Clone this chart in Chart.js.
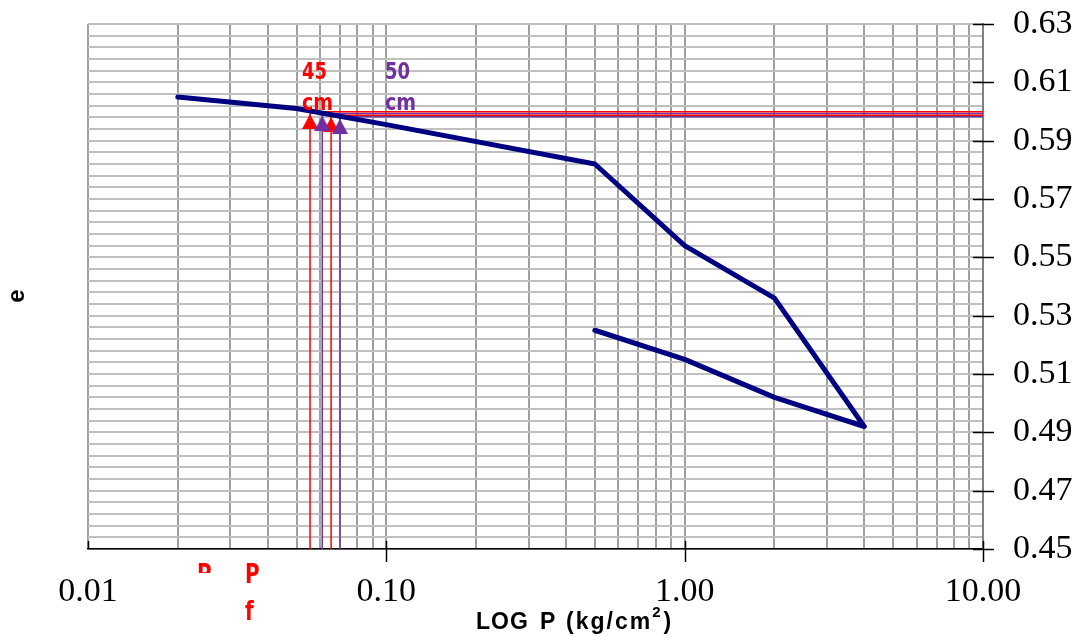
<!DOCTYPE html>
<html><head><meta charset="utf-8">
<script src="https://cdn.jsdelivr.net/npm/chart.js@4.4.1/dist/chart.umd.min.js"></script>
<style>html,body{margin:0;padding:0;background:#fff}#wrap{width:1080px;height:637px;position:relative}</style>
</head><body><div id="wrap"><canvas id="c" width="1080" height="637"></canvas></div>
<script>
// ---- data ----
const loadP      = [0.02, 0.05, 0.1, 0.5, 1, 2, 4, 2, 1, 0.5];
const voidRatio  = [0.605, 0.601, 0.5955, 0.582, 0.554, 0.536, 0.492, 0.502, 0.515, 0.525];
const redP       = [0.0555, 0.0653];     // 45 cm
const redMarkE   = [0.5966, 0.5955];
const redGuideE  = [0.5999, 0.5987];
const purpleP    = [0.061, 0.0699];      // 50 cm
const purpleMarkE  = [0.5960, 0.5949];
const purpleGuideE = [0.5993, 0.5982];
const xDecades   = [0.01, 0.1, 1, 10];
const xTickLabels = ['0.01', '0.10', '1.00', '10.00'];
const xMinor     = [1, 2, 3, 4, 5, 6, 7, 8, 9];
const yTickLabels = ['0.45', '0.47', '0.49', '0.51', '0.53', '0.55', '0.57', '0.59', '0.61', '0.63'];
const yMinorPerLabel = 5;

// ---- helpers ----
const xGridValues = [];
xDecades.slice(0, -1).forEach(d => xMinor.forEach(m => xGridValues.push(m * d)));
xGridValues.push(xDecades[xDecades.length - 1]);
const yGridValues = [];
for (let i = 0; i < yTickLabels.length - 1; i++) {
  const a = parseFloat(yTickLabels[i]), b = parseFloat(yTickLabels[i + 1]);
  for (let k = 0; k < yMinorPerLabel; k++) yGridValues.push(a + (b - a) * k / yMinorPerLabel);
}
yGridValues.push(parseFloat(yTickLabels[yTickLabels.length - 1]));

const RED = '#ff0000', PURPLE = '#7030a0', NAVY = '#000080';
const X_MAX = xDecades[xDecades.length - 1], Y_MIN = parseFloat(yTickLabels[0]);

function triangle(color) {
  const c = document.createElement('canvas'); c.width = 16; c.height = 15;
  const g = c.getContext('2d'); g.fillStyle = color;
  g.beginPath(); g.moveTo(8, 0); g.lineTo(16, 15); g.lineTo(0, 15); g.closePath(); g.fill();
  return c;
}
function guide(p, e) { return [{x: p, y: Y_MIN}, {x: p, y: e}, {x: X_MAX, y: e}]; }

const datasets = [];
datasets.push({data: loadP.map((p, i) => ({x: p, y: voidRatio[i]})), showLine: true,
  borderColor: NAVY, borderWidth: 5, pointRadius: 0, borderJoinStyle: 'round', borderCapStyle: 'round', order: 2});
redP.forEach((p, i) => datasets.push({data: guide(p, redGuideE[i]), showLine: true, borderColor: RED, borderWidth: 1.5, pointRadius: 0, order: 3}));
purpleP.forEach((p, i) => datasets.push({data: guide(p, purpleGuideE[i]), showLine: true, borderColor: PURPLE, borderWidth: 1.5, pointRadius: 0, order: 3}));
datasets.push({data: redP.map((p, i) => ({x: p, y: redMarkE[i]})), showLine: false, pointStyle: triangle(RED), pointRadius: 8, order: 1});
datasets.push({data: purpleP.map((p, i) => ({x: p, y: purpleMarkE[i]})), showLine: false, pointStyle: triangle(PURPLE), pointRadius: 8, order: 0});

const decorations = {
  id: 'decorations',
  afterDraw(chart) {
    const {ctx, chartArea: a, scales: {x, y}} = chart;
    ctx.save();
    // axis tick marks
    ctx.strokeStyle = '#000'; ctx.lineWidth = 1.5;
    xDecades.forEach((d, i) => {
      const px = Math.round(x.getPixelForValue(d)) + 0.5;
      ctx.beginPath(); ctx.moveTo(px, a.bottom - 8); ctx.lineTo(px, i === 0 ? a.bottom : a.bottom + 13); ctx.stroke();
    });
    yTickLabels.forEach(l => {
      const py = Math.round(y.getPixelForValue(parseFloat(l))) + 0.5;
      ctx.beginPath(); ctx.moveTo(a.right - 10, py); ctx.lineTo(a.right + 11, py); ctx.stroke();
    });
    // stretched annotation text
    function stretched(text, x0, base, color, size, sy) {
      ctx.save(); ctx.fillStyle = color; ctx.font = 'bold ' + size + 'px "DejaVu Sans"';
      ctx.textAlign = 'left'; ctx.textBaseline = 'alphabetic';
      ctx.translate(x0, base); ctx.scale(1, sy); ctx.fillText(text, 0, 0); ctx.restore();
    }
    stretched('45', 302, 79, RED, 18, 1.25);
    stretched('cm', 302, 110, RED, 19, 1.25);
    stretched('50', 385, 79, PURPLE, 18, 1.25);
    stretched('cm', 385, 110, PURPLE, 19, 1.25);
    ctx.save(); ctx.beginPath(); ctx.rect(150, 555, 100, 18); ctx.clip();
    stretched('P', 197, 583, RED, 20, 1.35); ctx.restore();
    stretched('P', 245, 583, RED, 20, 1.35);
    stretched('f', 245, 620, RED, 20, 1.35);
    // axis titles
    ctx.fillStyle = '#000'; ctx.textBaseline = 'alphabetic'; ctx.textAlign = 'left';
    ctx.font = 'bold 23px "Liberation Sans"';
    ctx.letterSpacing = '1px';
    ctx.fillText('LOG', 476, 629);
    ctx.fillText('P', 540, 629);
    ctx.letterSpacing = '2px';
    ctx.fillText('(kg/cm', 566, 629);
    let w = ctx.measureText('(kg/cm').width;
    ctx.font = 'bold 15px "Liberation Sans"';
    ctx.fillText('2', 566 + w, 617);
    let w2 = ctx.measureText('2').width;
    ctx.font = 'bold 23px "Liberation Sans"';
    ctx.fillText(')', 566 + w + w2 + 1, 629);
    ctx.letterSpacing = '0px';
    ctx.save(); ctx.translate(17, 296); ctx.rotate(-Math.PI / 2);
    ctx.textAlign = 'center'; ctx.textBaseline = 'middle'; ctx.font = 'bold 24px "Liberation Sans"';
    ctx.fillText('e', 0, 0); ctx.restore();
    ctx.restore();
  }
};

new Chart(document.getElementById('c'), {
  type: 'scatter',
  data: {datasets},
  options: {
    responsive: false, animation: false, devicePixelRatio: 1,
    layout: {padding: {left: 88, top: 24, right: 0, bottom: 0}},
    plugins: {legend: {display: false}, tooltip: {enabled: false}},
    scales: {
      x: {
        type: 'logarithmic', position: 'bottom', min: xDecades[0], max: X_MAX,
        afterBuildTicks: s => { s.ticks = xGridValues.map(v => ({value: v})); },
        afterFit: s => { s.height = 88; s.paddingLeft = 0; s.paddingRight = 0; s.paddingTop = 0; s.paddingBottom = 0; },
        grid: {color: '#a0a0a0', lineWidth: 2, drawTicks: false},
        border: {display: true, color: '#000', width: 1.5},
        ticks: {autoSkip: false, maxRotation: 0, minRotation: 0, padding: 23, color: '#000',
          font: {family: '"Liberation Serif"', size: 34},
          callback: v => { const i = xDecades.findIndex(d => Math.abs(d - v) / d < 1e-6); return i >= 0 ? xTickLabels[i] : ''; }}
      },
      y: {
        type: 'linear', position: 'right', min: Y_MIN, max: parseFloat(yTickLabels[yTickLabels.length - 1]),
        afterBuildTicks: s => { s.ticks = yGridValues.map(v => ({value: v})); },
        afterFit: s => { s.width = 97; s.paddingTop = 0; s.paddingBottom = 0; s.paddingLeft = 0; s.paddingRight = 0; },
        grid: {color: '#c0c0c0', lineWidth: 2, drawTicks: false},
        border: {display: true, color: '#808080', width: 2},
        ticks: {autoSkip: false, padding: 30, color: '#000', font: {family: '"Liberation Serif"', size: 34},
          callback: (v, i) => (i % yMinorPerLabel === 0 ? yTickLabels[i / yMinorPerLabel] : '')}
      }
    }
  },
  plugins: [decorations]
});
</script></body></html>
